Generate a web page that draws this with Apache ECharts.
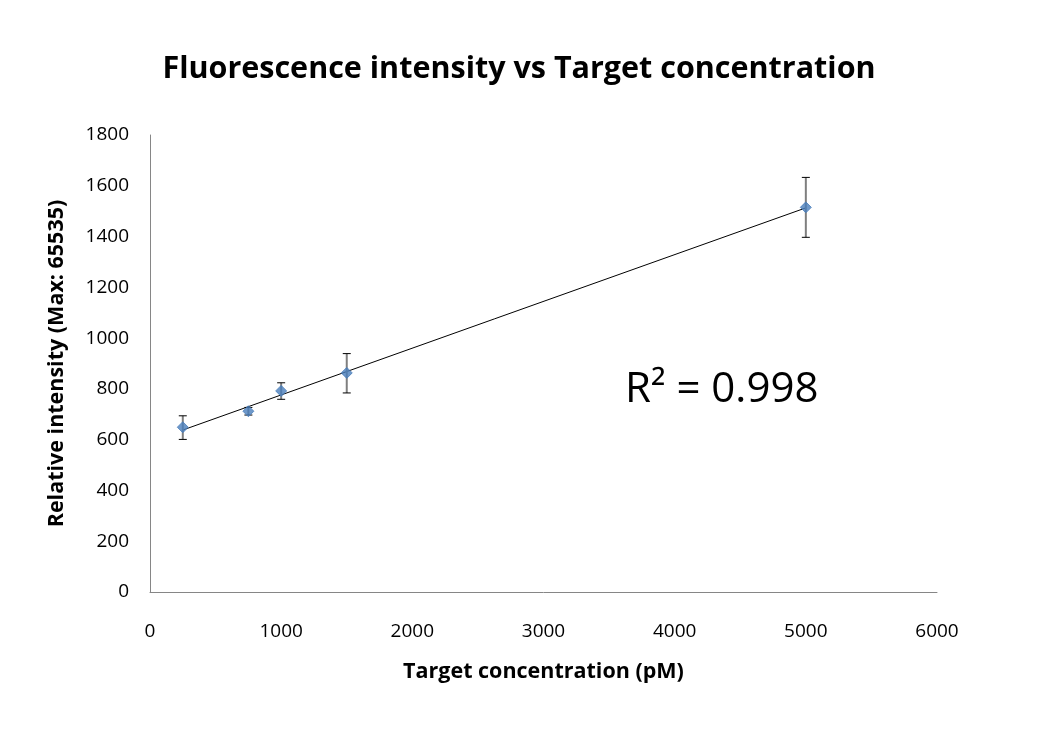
<!DOCTYPE html>
<html>
<head>
<meta charset="utf-8">
<script src="https://cdn.jsdelivr.net/npm/echarts@6/dist/echarts.min.js"></script>
<style>html,body{margin:0;padding:0;background:#fff}#c{width:1038px;height:730px}</style>
</head>
<body>
<div id="c"></div>
<script>
const concentrations = [250, 750, 1000, 1500, 5000];
const intensities = [649, 712, 792, 863, 1515];
const errLow = [601, 697, 759, 784, 1397];
const errHigh = [694, 727, 824, 939, 1633];
const trendX = [250, 5000];
const trendY = [638, 1513];
const xTicks = [0, 1000, 2000, 3000, 4000, 5000, 6000];
const yTicks = [0, 200, 400, 600, 800, 1000, 1200, 1400, 1600, 1800];

const font = '"Open Sans", "Liberation Sans", sans-serif';
const chart = echarts.init(document.getElementById('c'));
const points = concentrations.map((x, i) => [x, intensities[i]]);
const errData = concentrations.map((x, i) => [x, errLow[i], errHigh[i]]);
const trend = trendX.map((x, i) => [x, trendY[i]]);

chart.setOption({
  animation: false,
  backgroundColor: '#fff',
  title: {
    text: 'Fluorescence intensity vs Target concentration',
    left: 'center', top: 49,
    textStyle: { fontFamily: font, fontWeight: 'bold', fontSize: 30.5, color: '#000' }
  },
  grid: { left: 150, right: 101, top: 135, bottom: 138 },
  xAxis: {
    type: 'value', min: xTicks[0], max: xTicks[xTicks.length - 1], interval: 1000,
    name: 'Target concentration (pM)', nameLocation: 'middle', nameGap: 69,
    nameTextStyle: { fontFamily: font, fontWeight: 'bold', fontSize: 21.5, color: '#000' },
    axisLine: { lineStyle: { color: '#868686', width: 1 } },
    axisTick: { show: false },
    splitLine: { show: false },
    axisLabel: { margin: 30, fontFamily: font, fontSize: 19, color: '#000', formatter: v => String(v) }
  },
  yAxis: {
    type: 'value', min: yTicks[0], max: yTicks[yTicks.length - 1], interval: 200,
    name: 'Relative intensity (Max: 65535)', nameLocation: 'middle', nameGap: 82,
    nameTextStyle: { fontFamily: font, fontWeight: 'bold', fontSize: 21.5, color: '#000' },
    axisLine: { show: true, lineStyle: { color: '#868686', width: 1 } },
    axisTick: { show: false },
    splitLine: { show: false },
    axisLabel: { margin: 21, fontFamily: font, fontSize: 19, color: '#000', formatter: v => String(v) }
  },
  series: [
    {
      type: 'line', data: trend, symbol: 'none', z: 2,
      lineStyle: { color: '#000', width: 1 }
    },
    {
      type: 'custom', z: 3,
      data: errData,
      renderItem: function (params, api) {
        const x = api.value(0);
        const lo = api.coord([x, api.value(1)]);
        const hi = api.coord([x, api.value(2)]);
        const w = 4;
        return {
          type: 'group',
          children: [
            { type: 'line', shape: { x1: lo[0], y1: lo[1], x2: hi[0], y2: hi[1] }, style: { stroke: '#7f7f7f', lineWidth: 2 } },
            { type: 'line', shape: { x1: lo[0] - w, y1: lo[1], x2: lo[0] + w, y2: lo[1] }, style: { stroke: '#000', lineWidth: 1 } },
            { type: 'line', shape: { x1: hi[0] - w, y1: hi[1], x2: hi[0] + w, y2: hi[1] }, style: { stroke: '#000', lineWidth: 1 } }
          ]
        };
      }
    },
    {
      type: 'scatter', data: points, symbol: 'diamond', symbolSize: 11, z: 4,
      itemStyle: { color: '#4a7ebb', borderColor: '#4a7ebb' }
    }
  ],
  graphic: [{
    type: 'text', left: 625, top: 369,
    style: { text: 'R² = 0.998', font: '42px "Open Sans", "Liberation Sans", sans-serif', fill: '#000' }
  }]
});
</script>
</body>
</html>
